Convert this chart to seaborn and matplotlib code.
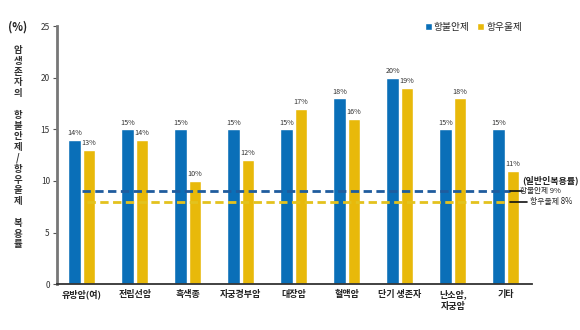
import matplotlib
matplotlib.use("Agg")
import matplotlib.pyplot as plt
import seaborn as sns
import pandas as pd
from matplotlib.patches import Patch

categories = ["유방암(여)", "전립선암", "흑색종", "자궁경부암", "대장암", "혈액암", "단기 생존자", "난소암,\n자궁암", "기타"]
anxiolytic = [14, 15, 15, 15, 15, 18, 20, 15, 15]
antidepressant = [13, 14, 10, 12, 17, 16, 19, 18, 11]
series_names = ["항불안제", "항우울제"]
general_rates = [9, 8]
yticks = [0, 5, 10, 15, 20, 25]

sns.set_theme(style="white")
plt.rcParams['font.family'] = ['Noto Sans CJK KR', 'DejaVu Sans']

BLUE = "#0A6FB8"
YELLOW = "#E8B90A"
DBLUE = "#1F5C9E"
DYELLOW = "#E3C21E"

df = pd.DataFrame({
    "cat": categories * 2,
    "val": anxiolytic + antidepressant,
    "series": [series_names[0]] * len(categories) + [series_names[1]] * len(categories),
})

fig = plt.figure(figsize=(5.8, 3.3), dpi=100)
ax = fig.add_axes([0.098, 0.139, 0.819, 0.782])
sns.barplot(data=df, x="cat", y="val", hue="series", palette=[BLUE, YELLOW],
            width=0.54, gap=0.13, ax=ax, legend=False, saturation=1)

ax.set_ylim(0, 25)
ax.set_xlim(-0.47, 8.49)
ax.set_yticks(yticks)
ax.set_yticklabels([str(t) for t in yticks], fontsize=6, color="#333333")
ax.tick_params(axis="y", length=3, width=0.8, color="#555555", pad=2, left=True)
ax.tick_params(axis="x", length=0, pad=4)
ax.set_xticks(range(len(categories)))
ax.set_xticklabels(categories, fontsize=6.5, color="#222222", fontweight="bold", linespacing=1.35)
ax.set_xlabel("")
ax.set_ylabel("")
for s in ["top", "right"]:
    ax.spines[s].set_visible(False)
ax.spines["left"].set_color("#777777")
ax.spines["left"].set_linewidth(2)
ax.spines["bottom"].set_color("#333333")
ax.spines["bottom"].set_linewidth(1.3)

for cont in ax.containers:
    ax.bar_label(cont, labels=[f"{int(v)}%" for v in cont.datavalues], fontsize=5.2,
                 color="#333333", padding=2)

# general population dashed lines
ax.plot([0.0, 8.08], [general_rates[0]] * 2, ls=(0, (3, 1.6)), color=DBLUE, lw=2)
ax.plot([0.1, 8.02], [general_rates[1]] * 2, ls=(0, (3, 1.6)), color=DYELLOW, lw=2)
ax.plot([8.08, 8.30], [general_rates[0]] * 2, color="#111111", lw=1.2, clip_on=False)
ax.plot([8.08, 8.40], [general_rates[1]] * 2, color="#111111", lw=1.2, clip_on=False)
ax.text(8.3, 10.1, "(일반인복용률)", fontsize=6.5, fontweight="bold", color="#222222",
        va="center", ha="left", clip_on=False)
ax.text(8.27, 9.0, f"{series_names[0]} {general_rates[0]}%", fontsize=5.5, color="#222222",
        va="center", ha="left", clip_on=False)
ax.text(8.45, 8.0, f"{series_names[1]} {general_rates[1]}%", fontsize=5.7, color="#222222",
        va="center", ha="left", clip_on=False)

# vertical stacked y label
fig.text(18 / 580, 1 - 27 / 330, "(%)", fontsize=8, fontweight="bold", color="#222222",
         ha="center", va="center")
groups = ["암생존자의", "항불안제/항우울제", "복용률"]
y = 50.0
step = 10.8
for gi, g in enumerate(groups):
    for ch in g:
        fig.text(18 / 580, 1 - y / 330, ch, fontsize=6.8, fontweight="bold", color="#333333",
                 ha="center", va="center")
        y += step
    y += step

handles = [Patch(facecolor=BLUE), Patch(facecolor=YELLOW)]
fig.legend(handles, series_names, loc="center right", bbox_to_anchor=(527 / 580, 1 - 27 / 330),
           ncol=2, fontsize=7, frameon=False, handlelength=0.7, handleheight=0.7,
           handletextpad=0.2, columnspacing=0.8, borderpad=0)

fig.savefig("out.png", dpi=100)
